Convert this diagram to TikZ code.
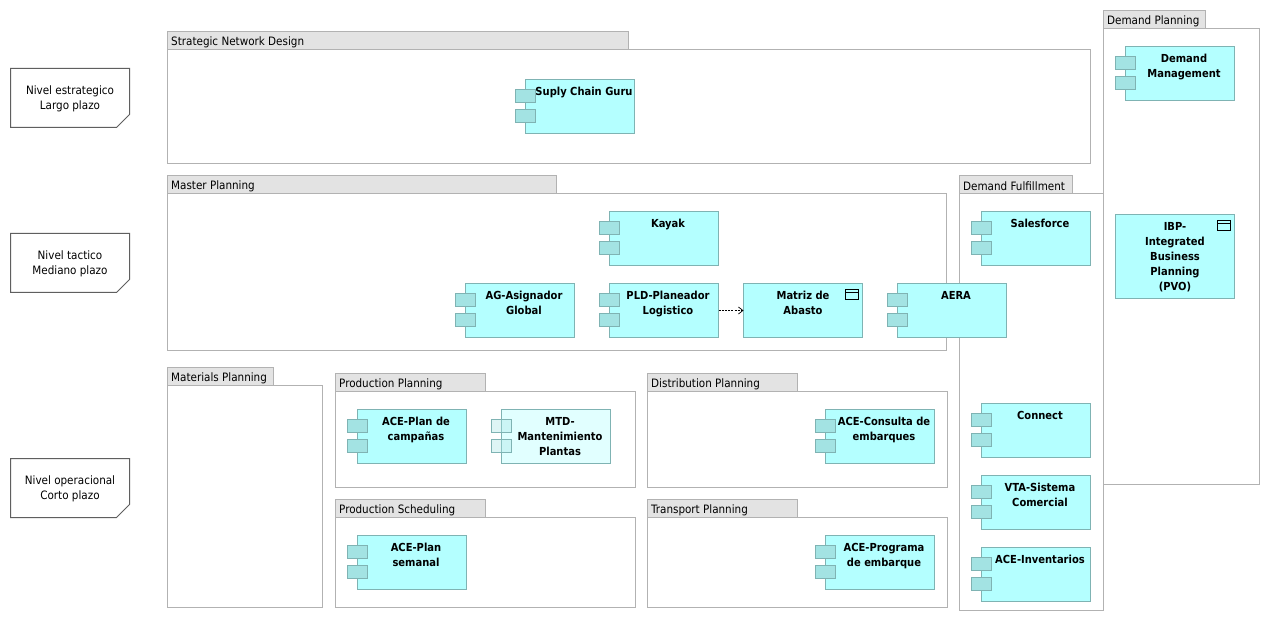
\documentclass[tikz,border=0pt]{standalone}
\usepackage{fontspec}
\setmainfont{DejaVu Sans Condensed}
\usetikzlibrary{arrows.meta}
\definecolor{grpline}{HTML}{B2B2B2}
\definecolor{grpfill}{HTML}{E3E3E3}
\definecolor{cline}{HTML}{7FB3B3}
\definecolor{cfill}{HTML}{B4FFFF}
\definecolor{cpart}{HTML}{A3E3E3}
\definecolor{cfade}{HTML}{E1FFFF}
\definecolor{notel}{HTML}{5F5F5F}
\tikzset{
  grpbody/.style={draw=grpline,line width=1bp,fill=white},
  grptab/.style={draw=grpline,line width=1bp,fill=grpfill},
  grptext/.style={anchor=west,inner sep=0pt,font=\fontsize{11.6}{15}\selectfont},
  compbox/.style={draw=cline,line width=1bp,fill=cfill,anchor=north west,inner sep=0pt,outer sep=0pt,font=\bfseries\fontsize{11.1}{15}\selectfont},
  fadedbox/.style={compbox,fill=cfade},
  part/.style={draw=cline,line width=1bp,fill=cpart},
  fadedpart/.style={draw=cline,line width=1bp,fill=cpart,fill opacity=.35},
  notebody/.style={draw=notel,line width=1bp,fill=white},
  notetext/.style={inner sep=0pt,align=center,font=\fontsize{11.6}{15}\selectfont},
  flow/.style={draw=black,line width=.7bp,dash pattern=on 2bp off 1.2bp,-{Straight Barb[length=4.5bp,width=7bp]}}
}
% group: x1 y1 tabright y2 bodyright name title
\newcommand{\grp}[7]{%
  \draw[grpbody] (#1-.5,#2+17.5) rectangle (#5-.5,#4-.5);
  \draw[grptab] (#1-.5,#2-.5) rectangle (#3-.5,#2+17.5);
  \node[grptext] (#6) at (#1+3,#2+10) {#7};
}
% component: style, name x y text height
\newcommand{\comp}[6][compbox]{%
  \node[#1] (#2) at (#3+.5,#4+.5) {\parbox[t][#6][t]{109bp}{\vspace*{8bp}\centering\leftskip=8bp plus 1fil #5\par}};
}
\newcommand{\parts}[3][part]{%
  \draw[#1] (#2-9.5,#3+10.5) rectangle (#2+10.5,#3+23.5);
  \draw[#1] (#2-9.5,#3+30.5) rectangle (#2+10.5,#3+43.5);
}
\newcommand{\compA}[5][54bp]{\comp{#2}{#3}{#4}{#5}{#1}\parts{#3}{#4}}
% artefact box with window icon
\newcommand{\art}[6]{%
  \node[compbox] (#1) at (#2+.5,#3+.5) {\parbox[t][#5][t]{119bp}{\vspace*{8bp}\centering #6\par}};
  \draw[draw=black,line width=1bp] (#2+102.5,#3+6.5) rectangle (#2+115.5,#3+16.5);
  \draw[draw=black,line width=1bp] (#2+102.5,#3+9.5) -- (#2+115.5,#3+9.5);
}
\newcommand{\note}[4]{%
  \draw[notebody] (#2+.5,#3+.5) -- (#2+119.5,#3+.5) -- (#2+119.5,#3+46.5) -- (#2+106.5,#3+59.5) -- (#2+.5,#3+59.5) -- cycle;
  \node[notetext] (#1) at (#2+60,#3+31) {#4};
}
\begin{document}
\begin{tikzpicture}[x=1bp,y=-1bp]
\useasboundingbox (0,0) rectangle (1270,621);
\fill[white] (0,0) rectangle (1270,621);

\note{n1}{10}{68}{Nivel estrategico\\Largo plazo}
\note{n2}{10}{233}{Nivel tactico\\Mediano plazo}
\note{n3}{10}{458}{Nivel operacional\\Corto plazo}

\grp{168}{32}{629}{164}{1091}{g1}{Strategic Network Design}
\grp{168}{176}{557}{351}{947}{g2}{Master Planning}
\grp{960}{176}{1073}{611}{1104}{g3}{Demand Fulfillment}
\grp{1104}{11}{1206}{485}{1260}{g4}{Demand Planning}
\grp{168}{368}{274}{608}{323}{g5}{Materials Planning}
\grp{336}{374}{486}{488}{636}{g6}{Production Planning}
\grp{648}{374}{798}{488}{948}{g7}{Distribution Planning}
\grp{336}{500}{486}{608}{636}{g8}{Production Scheduling}
\grp{648}{500}{798}{608}{948}{g9}{Transport Planning}

\compA{c1}{525}{79}{Suply Chain Guru}
\compA{c2}{609}{211}{Kayak}
\compA{c3}{465}{283}{AG-Asignador\\Global}
\compA{c4}{609}{283}{PLD-Planeador\\Logistico}
\compA{c5}{897}{283}{AERA}
\art{c6}{743}{283}{120}{54bp}{Matriz de\\Abasto}
\compA{c7}{981}{211}{Salesforce}
\compA{c8}{981}{403}{Connect}
\compA{c9}{981}{475}{VTA-Sistema\\Comercial}
\compA{c10}{981}{547}{ACE-Inventarios}
\compA{c11}{1125}{46}{Demand\\Management}
\art{c12}{1115}{214}{120}{84bp}{IBP-\\Integrated\\Business\\Planning\\(PVO)}
\compA{c13}{357}{409}{ACE-Plan de\\campañas}
\comp[fadedbox]{c14}{501}{409}{MTD-\\Mantenimiento\\Plantas}{54bp}
\parts[fadedpart]{501}{409}
\compA{c15}{825}{409}{ACE-Consulta de\\embarques}
\compA{c16}{357}{535}{ACE-Plan\\semanal}
\compA{c17}{825}{535}{ACE-Programa\\de embarque}

\draw[flow] (c4.east) -- (c6.west);
\end{tikzpicture}
\end{document}
